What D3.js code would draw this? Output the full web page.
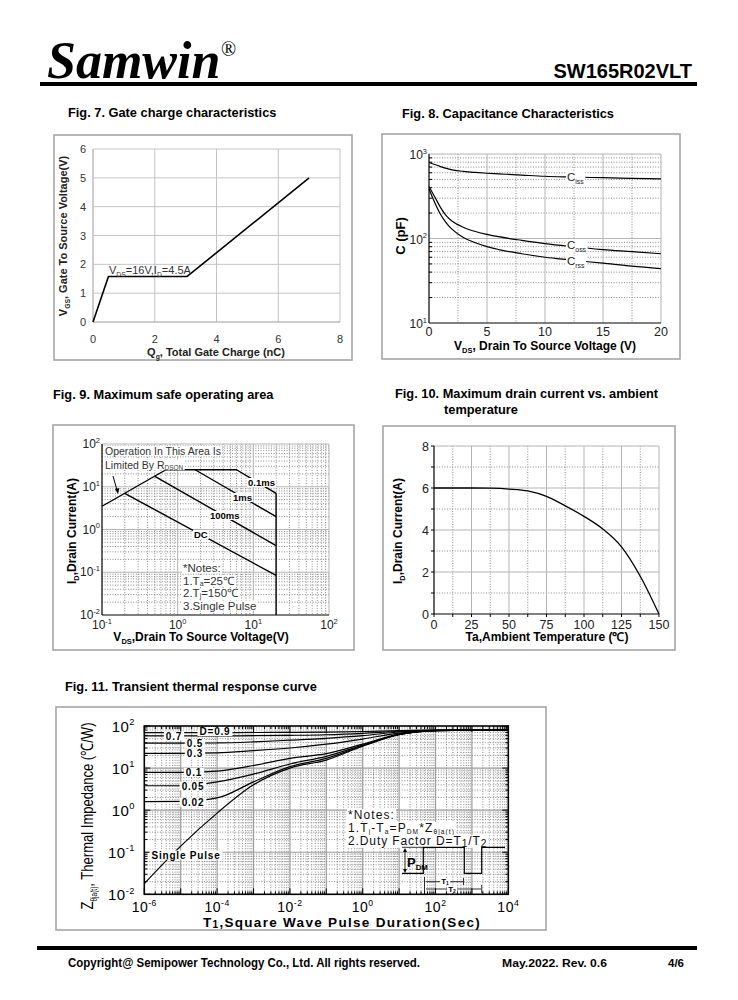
<!DOCTYPE html>
<html><head><meta charset="utf-8">
<script src="https://cdn.jsdelivr.net/npm/d3@7"></script>
<style>body{margin:0;background:#fff}svg{display:block}</style>
</head><body>
<svg id="s" width="738" height="1000"></svg>
<script>
// ---------------- DATA ----------------
// Fig 7 gate charge
const gateQ = [0, 0.5, 3.05, 7];
const gateV = [0, 1.58, 1.58, 5];
const gateXTicks = [0, 2, 4, 6, 8];
const gateYTicks = [0, 1, 2, 3, 4, 5, 6];
// Fig 8 capacitance
const capV    = [0, 0.5, 1, 1.5, 2, 3, 4, 5, 6, 8, 10, 12, 15, 17.5, 20];
const cissVal = [795, 750, 710, 675, 650, 622, 605, 592, 582, 563, 545, 535, 524, 515, 507];
const cossVal = [412, 310, 232, 185, 160, 135, 121, 112, 105, 95, 87, 81, 74, 70, 66];
const crssVal = [385, 265, 192, 152, 128, 102, 89, 80, 74, 66, 60, 56, 51, 47, 44];
const capXTicks = [0, 5, 10, 15, 20];
const capYTicks = [10, 100, 1000];
// Fig 9 SOA
const ronV = [0.1, 0.7],        ronI = [3.5, 25];
const p01V = [0.7, 6, 20],      p01I = [25, 25, 7];
const p1V  = [1.7, 20],         p1I  = [25, 2.0];
const p100V = [0.5, 20],        p100I = [17.5, 0.42];
const dcV  = [0.2, 20],         dcI  = [7, 0.084];
const vmaxV = [20, 20],         vmaxI = [7, 0.01];
const soaXTicks = [0.1, 1, 10, 100];
const soaYTicks = [0.01, 0.1, 1, 10, 100];
// Fig 10 derating
const taVal = [0, 25, 37.5, 50, 62.5, 75, 87.5, 100, 112.5, 125, 137.5, 150];
const idVal = [6, 6, 5.99, 5.95, 5.86, 5.6, 5.15, 4.65, 4.05, 3.2, 1.8, 0];
const taTicks = [0, 25, 50, 75, 100, 125, 150];
const idTicks = [0, 2, 4, 6, 8];
// Fig 11 transient thermal
const tPulse = [1e-6, 1e-5, 1e-4, 1e-3, 1e-2, 1e-1, 1, 10, 100, 1000, 10000];
const zD09 = [69.5, 69.5, 69.5, 70, 70.5, 71.5, 74, 78, 80, 80, 80];
const zD07 = [58, 58, 58, 59, 60, 62, 67, 75, 80, 80, 80];
const zD05 = [39, 39, 39.5, 42, 46, 51, 59, 72, 79, 80, 80];
const zD03 = [22.4, 22.4, 23, 26, 30, 37, 49, 68, 79, 80, 80];
const zD01 = [7.9, 7.9, 8.5, 11.5, 17, 22, 37, 64, 78, 80, 80];
const zD005 = [3.8, 3.8, 4.7, 7.2, 12.5, 19, 35, 63, 78, 80, 80];
const zD002 = [1.6, 1.62, 1.95, 4.7, 10.8, 17, 34, 63, 78, 80, 80];
const zSingle = [0.018, 0.14, 0.85, 4.0, 10, 15.5, 33, 62, 78, 80, 80];
const zthXTicks = [1e-6, 1e-4, 1e-2, 1, 100, 10000];
const zthYTicks = [0.01, 0.1, 1, 10, 100];

// ---------------- HELPERS ----------------
const svg = d3.select('#s');
const F = '"Liberation Sans", Arial, Helvetica, sans-serif';

function rich(g, x, y, parts, o = {}) {
  const sz = o.size || 11;
  const t = g.append('text').attr('x', x).attr('y', y)
    .attr('font-family', o.family || F).attr('font-size', sz)
    .attr('font-weight', o.weight || 'normal').attr('fill', o.fill || '#000')
    .attr('font-style', o.style || 'normal')
    .attr('text-anchor', o.anchor || 'start');
  if (o.ls) t.attr('letter-spacing', o.ls);
  if (o.transform) t.attr('transform', o.transform);
  let cur = 0;
  parts.forEach(p => {
    const [s, k] = typeof p === 'string' ? [p, 'n'] : p;
    const target = k === 'sub' ? sz * (o.subOff ?? 0.24) : k === 'sup' ? -sz * 0.42 : 0;
    const ts = t.append('tspan').text(s).attr('dy', target - cur);
    if (k !== 'n') ts.attr('font-size', sz * (o.subScale || 0.62));
    cur = target;
  });
  if (o.textLength) t.attr('textLength', o.textLength).attr('lengthAdjust', 'spacingAndGlyphs');
  if (o.bg) {
    const b = t.node().getBBox();
    g.insert('rect', () => t.node()).attr('x', b.x - (o.padX ?? 1)).attr('y', b.y + 1)
      .attr('width', b.width + 2 * (o.padX ?? 1)).attr('height', b.height - 2).attr('fill', '#fff');
  }
  return t;
}
const SOLID = { stroke: '#b4b4b4', w: 1, dash: null };
const DOT = { stroke: '#8a8a8a', w: 1, dash: '1,1.6' };
function line(g, x1, y1, x2, y2, st) {
  const l = g.append('line').attr('x1', x1).attr('y1', y1).attr('x2', x2).attr('y2', y2)
    .attr('stroke', st.stroke).attr('stroke-width', st.w);
  if (st.dash) l.attr('stroke-dasharray', st.dash);
  return l;
}
function frame(x1, y1, x2, y2) {
  svg.append('rect').attr('x', x1).attr('y', y1).attr('width', x2 - x1).attr('height', y2 - y1)
    .attr('fill', 'none').attr('stroke', '#a6a6a6').attr('stroke-width', 1.6);
}
function minors(lo, hi) {
  const out = [];
  for (let d = lo; d < hi; d++) for (let m = 2; m <= 9; m++) out.push(m * Math.pow(10, d));
  return out;
}
function sup10(g, x, y, e, o) {
  return rich(g, x, y, ['10', [String(e), 'sup']], o);
}
function path(g, xs, ys, X, Y, o = {}) {
  const pts = xs.map((v, i) => [X(v), Y(ys[i])]);
  const gen = d3.line();
  if (o.curve) gen.curve(o.curve);
  g.append('path').attr('d', gen(pts)).attr('fill', 'none')
    .attr('stroke', o.stroke || '#000').attr('stroke-width', o.w || 1.3)
    .attr('stroke-linejoin', 'round');
}

// ---------------- HEADER ----------------
svg.append('text').attr('x', 47).attr('y', 78).text('Samwin')
  .attr('font-family', '"Liberation Serif", "Times New Roman", serif')
  .attr('font-size', 52).attr('font-weight', 'bold').attr('font-style', 'italic');
svg.append('text').attr('x', 221).attr('y', 56).text('®')
  .attr('font-family', '"Liberation Serif", "Times New Roman", serif').attr('font-size', 20);
svg.append('text').attr('x', 692).attr('y', 78).attr('text-anchor', 'end').text('SW165R02VLT')
  .attr('font-family', F).attr('font-size', 20).attr('font-weight', 'bold');
svg.append('rect').attr('x', 40).attr('y', 82).attr('width', 657).attr('height', 4).attr('fill', '#000');

// titles
const T = { size: 12.8, weight: 'bold' };
rich(svg, 68, 117, ['Fig. 7. Gate charge characteristics'], T);
rich(svg, 402, 118, ['Fig. 8. Capacitance Characteristics'], T);
rich(svg, 53, 399, ['Fig. 9. Maximum safe operating area'], T);
rich(svg, 395, 398, ['Fig. 10. Maximum drain current vs. ambient'], T);
rich(svg, 444, 414, ['temperature'], T);
rich(svg, 65, 691, ['Fig. 11. Transient thermal response curve'], T);

// ---------------- FIG 7 ----------------
{
  frame(54, 135, 352, 360);
  const g = svg.append('g');
  const X = d3.scaleLinear().domain([0, 8]).range([93, 340]);
  const Y = d3.scaleLinear().domain([0, 6]).range([322, 149]);
  const st = { stroke: '#c4c4c4', w: 1 };
  gateXTicks.forEach(v => line(g, X(v), Y(6), X(v), Y(0), v === 0 ? { stroke: '#9a9a9a', w: 1 } : st));
  gateYTicks.forEach(v => line(g, X(0), Y(v), X(8), Y(v), v === 0 ? { stroke: '#9a9a9a', w: 1 } : st));
  path(g, gateQ, gateV, X, Y, { w: 1.6 });
  gateXTicks.forEach(v => rich(g, X(v), 343, [String(v)], { size: 11, anchor: 'middle', fill: '#333' }));
  gateYTicks.forEach(v => rich(g, 86, Y(v) + 4, [String(v)], { size: 11, anchor: 'end', fill: '#333' }));
  rich(g, 109, 274, ['V', ['DS', 'sub'], '=16V,I', ['D', 'sub'], '=4.5A'], { size: 11, fill: '#333' });
  rich(g, 216, 356, ['Q', ['g', 'sub'], ', Total Gate Charge (nC)'], { size: 11, weight: 'bold', anchor: 'middle', fill: '#222' });
  rich(g, 0, 0, ['V', ['GS', 'sub'], ',  Gate To  Source Voltage(V)'],
    { size: 11, weight: 'bold', anchor: 'middle', fill: '#222', transform: 'translate(67,236) rotate(-90)' });
}

// ---------------- FIG 8 ----------------
{
  frame(382, 134, 680, 359);
  const g = svg.append('g');
  const X = d3.scaleLinear().domain([0, 20]).range([429, 661]);
  const Y = d3.scaleLog().domain([10, 1000]).range([323, 154]);
  [2.5, 7.5, 12.5, 17.5].forEach(v => line(g, X(v), Y(1000), X(v), Y(10), DOT));
  minors(1, 3).forEach(v => line(g, X(0), Y(v), X(20), Y(v), DOT));
  [5, 10, 15, 20].forEach(v => line(g, X(v), Y(1000), X(v), Y(10), SOLID));
  [100, 1000].forEach(v => line(g, X(0), Y(v), X(20), Y(v), SOLID));
  line(g, X(0), Y(10), X(20), Y(10), { stroke: '#000', w: 1.2 });
  line(g, X(0), Y(10), X(0), Y(1000), { stroke: '#000', w: 1.2 });
  minors(1, 3).forEach(v => line(g, X(0), Y(v), X(0) + 3, Y(v), { stroke: '#000', w: 1 }));
  path(g, capV, cissVal, X, Y, { curve: d3.curveMonotoneX, w: 1.2 });
  path(g, capV, cossVal, X, Y, { curve: d3.curveMonotoneX, w: 1.2 });
  path(g, capV, crssVal, X, Y, { curve: d3.curveMonotoneX, w: 1.2 });
  const lo = { size: 11.5, fill: '#222', bg: true, subScale: 0.6 };
  rich(g, 567, 181, ['C', ['iss', 'sub']], lo);
  rich(g, 567, 249, ['C', ['oss', 'sub']], lo);
  rich(g, 567, 265, ['C', ['rss', 'sub']], lo);
  capXTicks.forEach(v => rich(g, X(v), 336, [String(v)], { size: 12.5, anchor: 'middle', fill: '#222' }));
  capYTicks.forEach(v => sup10(g, 427, Y(v) + 5, Math.round(Math.log10(v)), { size: 12, anchor: 'end', fill: '#222' }));
  rich(g, 545, 350, ['V', ['DS', 'sub'], ', Drain To Source Voltage (V)'], { size: 12, weight: 'bold', anchor: 'middle' });
  rich(g, 0, 0, ['C (pF)'], { size: 13, weight: 'bold', anchor: 'middle', transform: 'translate(405,236) rotate(-90)' });
}

// ---------------- FIG 9 ----------------
{
  frame(53, 425, 354, 650);
  const g = svg.append('g');
  const X = d3.scaleLog().domain([0.1, 100]).range([102, 329]);
  const Y = d3.scaleLog().domain([0.01, 100]).range([615, 444]);
  minors(-1, 2).forEach(v => line(g, X(v), Y(100), X(v), Y(0.01), DOT));
  minors(-2, 2).forEach(v => line(g, X(0.1), Y(v), X(100), Y(v), DOT));
  [1, 10, 100].forEach(v => line(g, X(v), Y(100), X(v), Y(0.01), SOLID));
  [0.1, 1, 10, 100].forEach(v => line(g, X(0.1), Y(v), X(100), Y(v), SOLID));
  line(g, X(0.1), Y(0.01), X(100), Y(0.01), { stroke: '#000', w: 1.2 });
  line(g, X(0.1), Y(0.01), X(0.1), Y(100), { stroke: '#000', w: 1.2 });
  const o = { w: 1.4 };
  path(g, ronV, ronI, X, Y, o);
  path(g, p01V, p01I, X, Y, o);
  path(g, p1V, p1I, X, Y, o);
  path(g, p100V, p100I, X, Y, o);
  path(g, dcV, dcI, X, Y, o);
  path(g, vmaxV, vmaxI, X, Y, o);
  const lb = { size: 9.5, weight: 'bold', bg: true };
  rich(g, 248, 486, ['0.1ms'], lb);
  rich(g, 233, 501, ['1ms'], lb);
  rich(g, 210, 519, ['100ms'], lb);
  rich(g, 194, 538, ['DC'], lb);
  const tx = { size: 10.5, fill: '#333', bg: true };
  rich(g, 105, 455, ['Operation In This Area Is'], tx);
  rich(g, 105, 468.5, ['Limited By R', ['DSON', 'sub']], { ...tx, subOff: 0.15 });
  g.append('path').attr('d', 'M113,476 L117.5,492').attr('stroke', '#000').attr('stroke-width', 1);
  g.append('path').attr('d', 'M115,489 L118,494 L119.5,488 Z').attr('fill', '#000');
  const nt = { size: 11.5, fill: '#333', bg: true, subOff: 0.12, subScale: 0.6 };
  rich(g, 183, 572, ['*Notes:'], nt);
  rich(g, 183, 584.5, ['1.T', ['a', 'sub'], '=25℃'], nt);
  rich(g, 183, 597, ['2.T', ['j', 'sub'], '=150℃'], nt);
  rich(g, 183, 609.5, ['3.Single Pulse'], nt);
  soaXTicks.forEach(v => sup10(g, X(v), 629, Math.round(Math.log10(v)), { size: 12, anchor: 'middle', fill: '#222' }));
  soaYTicks.forEach(v => sup10(g, 100, Y(v) + 4, Math.round(Math.log10(v)), { size: 12, anchor: 'end', fill: '#222' }));
  rich(g, 201, 641, ['V', ['DS', 'sub'], ',Drain To Source Voltage(V)'], { size: 12, weight: 'bold', anchor: 'middle' });
  rich(g, 0, 0, ['I', ['D', 'sub'], ',Drain Current(A)'], { size: 12, weight: 'bold', anchor: 'middle', transform: 'translate(76,531) rotate(-90)' });
}

// ---------------- FIG 10 ----------------
{
  frame(383, 426, 675, 650);
  const g = svg.append('g');
  const X = d3.scaleLinear().domain([0, 150]).range([434, 659]);
  const Y = d3.scaleLinear().domain([0, 8]).range([614, 446]);
  [12.5, 37.5, 62.5, 87.5, 112.5, 137.5].forEach(v => line(g, X(v), Y(8), X(v), Y(0), DOT));
  [1, 3, 5, 7].forEach(v => line(g, X(0), Y(v), X(150), Y(v), DOT));
  taTicks.slice(1).forEach(v => line(g, X(v), Y(8), X(v), Y(0), SOLID));
  idTicks.slice(1).forEach(v => line(g, X(0), Y(v), X(150), Y(v), SOLID));
  line(g, X(0), Y(0), X(150), Y(0), { stroke: '#000', w: 1.2 });
  line(g, X(0), Y(0), X(0), Y(8), { stroke: '#000', w: 1.2 });
  [0, 1, 2, 3, 4, 5, 6, 7, 8].forEach(v => line(g, X(0) - 3, Y(v), X(0), Y(v), { stroke: '#000', w: 1 }));
  [0, 12.5, 25, 37.5, 50, 62.5, 75, 87.5, 100, 112.5, 125, 137.5, 150].forEach(v => line(g, X(v), Y(0), X(v), Y(0) + 3, { stroke: '#000', w: 1 }));
  path(g, taVal, idVal, X, Y, { curve: d3.curveMonotoneX, w: 1.3 });
  taTicks.forEach(v => rich(g, X(v), 629, [String(v)], { size: 12.5, anchor: 'middle', fill: '#222' }));
  idTicks.forEach(v => rich(g, 429, Y(v) + 4.5, [String(v)], { size: 12.5, anchor: 'end', fill: '#222' }));
  rich(g, 547, 641, ['Ta,Ambient Temperature (℃)'], { size: 12, weight: 'bold', anchor: 'middle' });
  rich(g, 0, 0, ['I', ['D', 'sub'], ',Drain Current(A)'], { size: 12, weight: 'bold', anchor: 'middle', transform: 'translate(402,531) rotate(-90)' });
}

// ---------------- FIG 11 ----------------
{
  frame(56, 707, 546, 930);
  const g = svg.append('g');
  const X = d3.scaleLog().domain([1e-6, 1e4]).range([144.3, 508.3]);
  const Y = d3.scaleLog().domain([0.01, 100]).range([894.3, 726]);
  minors(-6, 4).forEach(v => line(g, X(v), Y(100), X(v), Y(0.01), DOT));
  minors(-2, 2).forEach(v => line(g, X(1e-6), Y(v), X(1e4), Y(v), DOT));
  d3.range(-5, 4).map(e => Math.pow(10, e)).forEach(v => line(g, X(v), Y(100), X(v), Y(0.01), { stroke: '#9c9c9c', w: 1.2 }));
  [0.1, 1, 10].forEach(v => line(g, X(1e-6), Y(v), X(1e4), Y(v), { stroke: '#9c9c9c', w: 1.2 }));
  g.append('rect').attr('x', X(1e-6)).attr('y', Y(100)).attr('width', X(1e4) - X(1e-6)).attr('height', Y(0.01) - Y(100))
    .attr('fill', 'none').attr('stroke', '#000').attr('stroke-width', 1.6);
  const tk = { stroke: '#000', w: 1 };
  minors(-6, 4).concat(d3.range(-6, 5).map(e => Math.pow(10, e))).forEach(v => {
    const L = Math.abs(Math.log10(v) % 1) < 1e-9 ? 6 : 3;
    line(g, X(v), Y(0.01), X(v), Y(0.01) - L, tk); line(g, X(v), Y(100), X(v), Y(100) + L, tk);
  });
  minors(-2, 2).concat([0.01, 0.1, 1, 10, 100]).forEach(v => {
    const L = Math.abs(Math.log10(v) % 1) < 1e-9 ? 6 : 3;
    line(g, X(1e-6), Y(v), X(1e-6) + L, Y(v), tk); line(g, X(1e4), Y(v), X(1e4) - L, Y(v), tk);
  });
  const co = { curve: d3.curveMonotoneX, w: 1.2 };
  [zD09, zD07, zD05, zD03, zD01, zD005, zD002, zSingle].forEach(z => path(g, tPulse, z, X, Y, co));
  const lb = { size: 10, weight: 'bold', bg: true, ls: 0.8, anchor: 'middle', padX: 2 };
  rich(g, 215, 735, ['D=0.9'], lb);
  rich(g, 174, 739.5, ['0.7'], lb);
  rich(g, 195, 747, ['0.5'], lb);
  rich(g, 195, 757, ['0.3'], lb);
  rich(g, 194, 776, ['0.1'], lb);
  rich(g, 193, 789.5, ['0.05'], lb);
  rich(g, 193, 805.5, ['0.02'], lb);
  rich(g, 186, 858.5, ['Single Pulse'], lb);
  const nt = { size: 12, fill: '#111', bg: true, ls: 1.1, subOff: 0.15, subScale: 0.55 };
  rich(g, 348, 819, ['*Notes:'], nt);
  rich(g, 348, 832, ['1.T', ['j', 'sub'], '-T', ['a', 'sub'], '=P', ['DM', 'sub'], '*Z', ['θja(t)', 'sub']], nt);
  rich(g, 348, 845, ['2.Duty Factor D=T', ['1', 'sub'], '/T', ['2', 'sub']], { ...nt, subScale: 0.85, ls: 0.9 });
  // pulse diagram
  g.append('path').attr('d', 'M402,873.3 L423.3,873.3 L423.3,847.3 L464.3,847.3 L464.3,873.3 L481.7,873.3 L481.7,847.3 L505,847.3')
    .attr('fill', 'none').attr('stroke', '#000').attr('stroke-width', 1.2);
  line(g, 402, 847.3, 423.3, 847.3, { stroke: '#000', w: 0.8 });
  line(g, 405, 850, 405, 871, { stroke: '#000', w: 0.8 });
  g.append('path').attr('d', 'M403,852 L405,848 L407,852 Z M403,869 L405,873 L407,869 Z').attr('fill', '#000');
  rich(g, 407, 867, ['P', ['DM', 'sub']], { size: 13, weight: 'bold', subScale: 0.6 });
  line(g, 426, 881.7, 463, 881.7, { stroke: '#000', w: 0.8 });
  line(g, 426, 889, 481, 889, { stroke: '#000', w: 0.8 });
  line(g, 424.5, 877, 424.5, 893, { stroke: '#000', w: 0.8 });
  line(g, 463.5, 878, 463.5, 885, { stroke: '#000', w: 0.8 });
  line(g, 481.7, 885, 481.7, 893, { stroke: '#000', w: 0.8 });
  rich(g, 445, 884, ['T', ['1', 'sub']], { size: 8, weight: 'bold', anchor: 'middle', bg: true, subOff: 0.1 });
  rich(g, 452, 892, ['T', ['2', 'sub']], { size: 8, weight: 'bold', anchor: 'middle', bg: true, subOff: 0.1 });
  zthXTicks.forEach(v => sup10(g, X(v), 912, Math.round(Math.log10(v)), { size: 14, anchor: 'middle', ls: 0.5 }));
  zthYTicks.forEach(v => sup10(g, 135, Y(v) + 5.5, Math.round(Math.log10(v)), { size: 15, anchor: 'end', ls: 0.5 }));
  rich(g, 342, 927, ['T', ['1', 'sub'], ',Square Wave Pulse Duration(Sec)'], { size: 13.5, weight: 'bold', anchor: 'middle', ls: 1.3, subScale: 0.75, subOff: 0.1 });
  rich(g, 0, 0, ['Z', ['θja(t)', 'sub'], ', Thermal Impedance (℃/W)'],
    { size: 17, anchor: 'middle', transform: 'translate(93,816) rotate(-90)', textLength: 187, subScale: 0.5 });
}

// ---------------- FOOTER ----------------
svg.append('rect').attr('x', 37).attr('y', 946).attr('width', 660).attr('height', 4).attr('fill', '#000');
rich(svg, 68, 967, ['Copyright@ Semipower Technology Co., Ltd. All rights reserved.'], { size: 12, weight: 'bold', textLength: 352 });
rich(svg, 502, 967, ['May.2022. Rev. 0.6'], { size: 11.5, weight: 'bold', textLength: 105 });
rich(svg, 668, 967, ['4/6'], { size: 11.5, weight: 'bold', textLength: 16 });
</script>
</body></html>
